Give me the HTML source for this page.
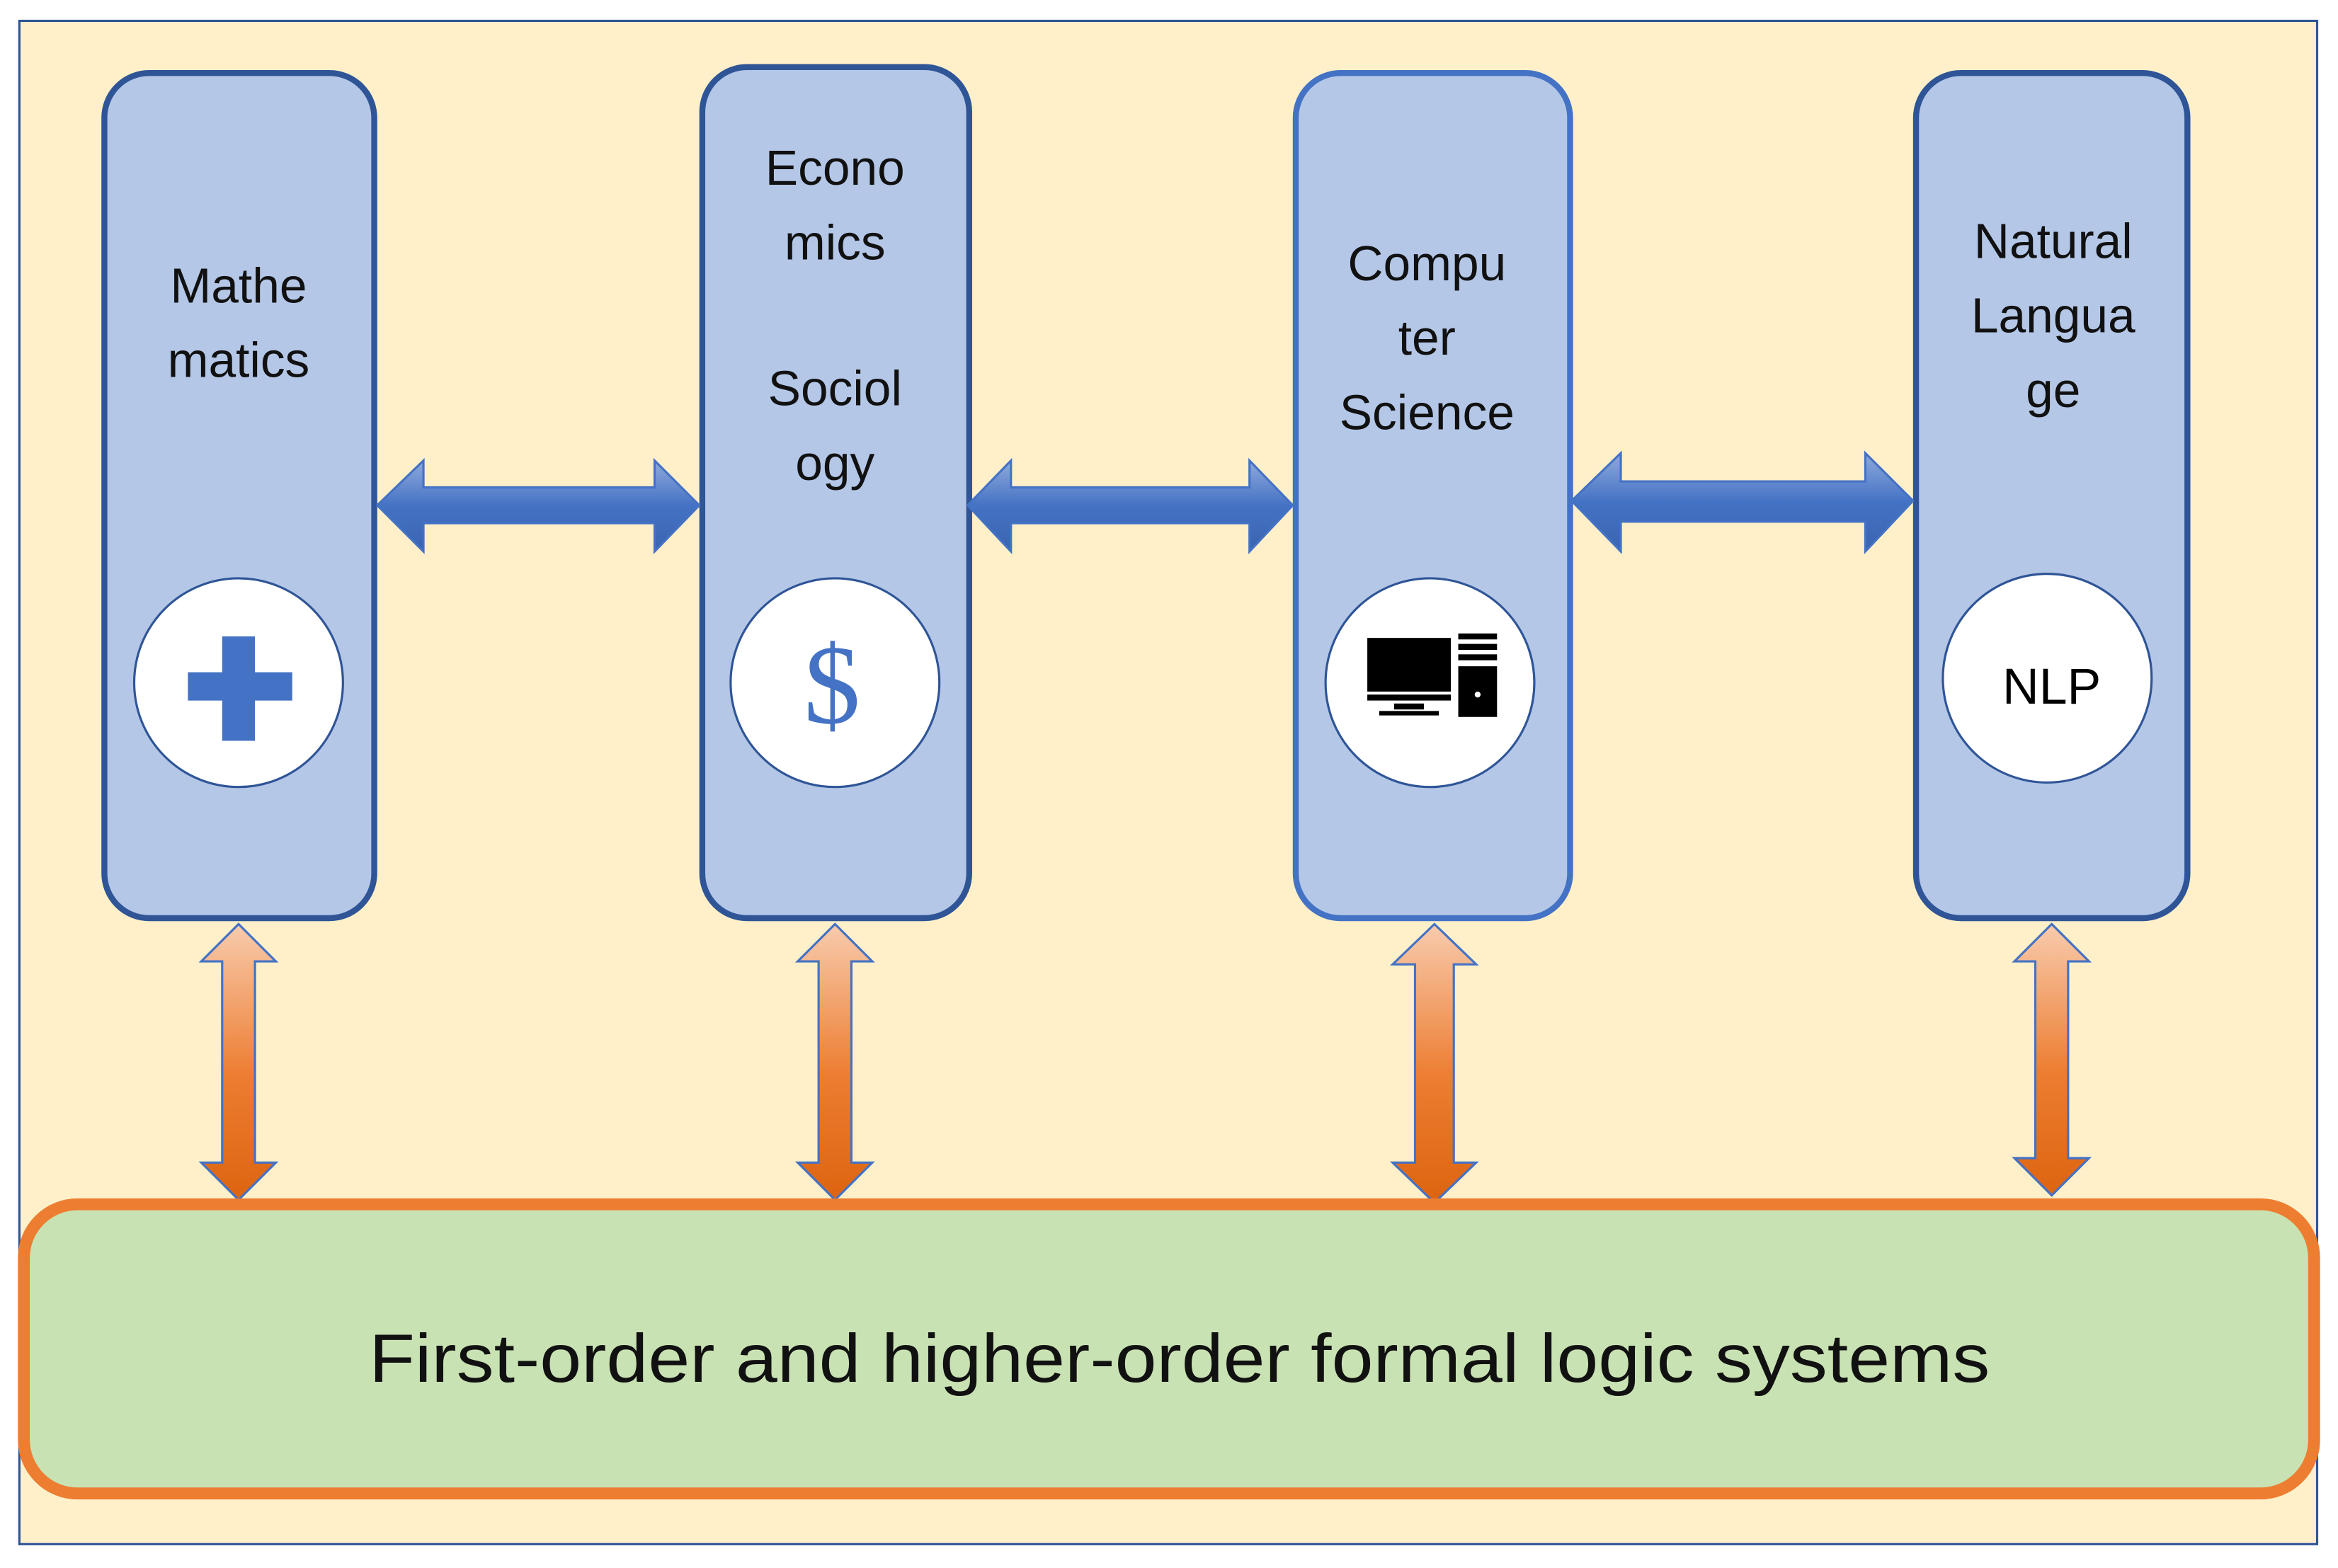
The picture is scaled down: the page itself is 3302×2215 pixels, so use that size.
<!DOCTYPE html>
<html><head><meta charset="utf-8"><style>html,body{margin:0;padding:0;background:#fff}svg{display:block}</style></head>
<body>
<svg width="3302" height="2215" viewBox="0 0 1568 1052" preserveAspectRatio="none" xmlns="http://www.w3.org/2000/svg">
<defs>
<linearGradient id="hb" x1="0" y1="0" x2="0" y2="1"><stop offset="0" stop-color="#8faadc"/><stop offset="0.5" stop-color="#4472c4"/><stop offset="1" stop-color="#3a64b0"/></linearGradient>
<linearGradient id="vo" x1="0" y1="0" x2="0" y2="1"><stop offset="0" stop-color="#f8cbad"/><stop offset="0.55" stop-color="#ed7d31"/><stop offset="1" stop-color="#dd6410"/></linearGradient>
</defs>
<rect x="0" y="0" width="1568" height="1052" fill="#fff"/>
<rect x="13" y="14" width="1541" height="1022" fill="#fff0ca" stroke="#2f5597" stroke-width="1.5"/>
<g fill="#b4c7e7" stroke-width="4">
<rect x="70" y="49" width="181" height="567" rx="30" stroke="#2f5597"/>
<rect x="471" y="45" width="179" height="571" rx="30" stroke="#2f5597"/>
<rect x="869" y="49" width="184" height="567" rx="30" stroke="#4472c4"/>
<rect x="1285" y="49" width="182" height="567" rx="30" stroke="#2f5597"/>
</g>
<g fill="url(#hb)" stroke="#4472c4" stroke-width="1.5">
<path d="M253,339 L284,309 L284,327 L439,327 L439,309 L469,339 L439,370 L439,351 L284,351 L284,370 Z"/>
<path d="M649,339 L678,309 L678,327 L838,327 L838,309 L867,339 L838,370 L838,351 L678,351 L678,370 Z"/>
<path d="M1054,336 L1087,304 L1087,323 L1251,323 L1251,304 L1283,336 L1251,370 L1251,350 L1087,350 L1087,370 Z"/>
</g>
<g fill="url(#vo)" stroke="#4472c4" stroke-width="1.5">
<path d="M160,620 L185,645 L171,645 L171,780 L185,780 L160,805 L135,780 L149,780 L149,645 L135,645 Z"/>
<path d="M560,620 L585,645 L571,645 L571,780 L585,780 L560,805 L535,780 L549,780 L549,645 L535,645 Z"/>
<path d="M962,620 L990,647 L975,647 L975,780 L990,780 L962,807 L934,780 L949,780 L949,647 L934,647 Z"/>
<path d="M1376,620 L1401,645 L1387,645 L1387,777 L1401,777 L1376,802 L1351,777 L1365,777 L1365,645 L1351,645 Z"/>
</g>
<g fill="#fff" stroke="#2f5597" stroke-width="1.5">
<ellipse cx="160" cy="458" rx="70" ry="70"/>
<ellipse cx="560" cy="458" rx="70" ry="70"/>
<ellipse cx="959" cy="458" rx="70" ry="70"/>
<ellipse cx="1373" cy="455" rx="70" ry="70"/>
</g>
<path d="M149,427 h22 v24 h25 v19 h-25 v27 h-22 v-27 h-23 v-19 h23 Z" fill="#4472c4"/>
<text x="558" y="485" font-family="Liberation Serif, serif" font-size="76" fill="#4472c4" text-anchor="middle">$</text>
<g fill="#000">
<rect x="917" y="428" width="56" height="36"/>
<rect x="917" y="466" width="56" height="4"/>
<rect x="935" y="472" width="20" height="4"/>
<rect x="925" y="477" width="40" height="3"/>
<rect x="978" y="425" width="26" height="4"/>
<rect x="978" y="432" width="26" height="4"/>
<rect x="978" y="439" width="26" height="4"/>
<rect x="978" y="447" width="26" height="34"/>
</g>
<circle cx="991" cy="466" r="2" fill="#fff"/>
<text x="1376" y="472" font-family="Liberation Sans, sans-serif" font-size="34" fill="#000" text-anchor="middle">NLP</text>
<g font-family="Liberation Sans, sans-serif" font-size="33" fill="#111" text-anchor="middle">
<text x="160" y="203">Mathe</text><text x="160" y="253">matics</text>
<text x="560" y="124">Econo</text><text x="560" y="174">mics</text>
<text x="560" y="272">Sociol</text><text x="560" y="322">ogy</text>
<text x="957" y="188">Compu</text><text x="957" y="238">ter</text><text x="957" y="288">Science</text>
<text x="1377" y="173">Natural</text><text x="1377" y="223">Langua</text><text x="1377" y="273">ge</text>
</g>
<rect x="16" y="808" width="1536" height="194" rx="36" fill="#c9e2b3" stroke="#ed7d31" stroke-width="8"/>
<text x="791" y="927" font-family="Liberation Sans, sans-serif" font-size="46" fill="#111" text-anchor="middle" textLength="1087" lengthAdjust="spacingAndGlyphs">First-order and higher-order formal logic systems</text>
</svg>
</body></html>
